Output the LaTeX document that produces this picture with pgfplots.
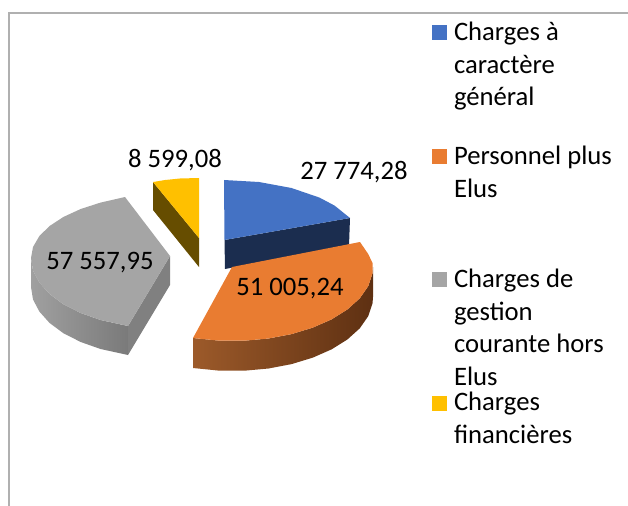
\documentclass[border=0pt]{standalone}
\usepackage{pgfplots}
\pgfplotsset{compat=1.18}
\usepackage{fontspec}
\setmainfont{Carlito}
\definecolor{cblue}{HTML}{4472C4}
\definecolor{cbluedk}{HTML}{1B2D4F}
\definecolor{corange}{HTML}{E97C31}
\definecolor{corl}{HTML}{9C5A2A}
\definecolor{cord}{HTML}{5E3012}
\definecolor{cgray}{HTML}{A5A5A5}
\definecolor{cgrayl}{HTML}{A0A0A0}
\definecolor{cgrayd}{HTML}{7A7A7A}
\definecolor{cgrayc}{HTML}{808080}
\definecolor{cyel}{HTML}{FFC000}
\definecolor{cyeld}{HTML}{664D00}
\definecolor{frame}{HTML}{B0B0B0}
\tikzset{lab/.style={font=\fontsize{20}{23}\selectfont,text=black,inner sep=0pt,outer sep=0pt}}
\begin{document}
\begin{tikzpicture}
\path[use as bounding box] (0,0) rectangle (471pt,379.5pt);
\begin{axis}[
  width=471pt,height=379.5pt,scale only axis,
  xmin=0,xmax=628,ymin=0,ymax=506,y dir=reverse,
  axis lines=none,clip=true,
]
% frame
\addplot[frame,line width=1.1pt] coordinates {(9,506)(9,13)(628,13)};
% yellow
\addplot[cyeld,fill=cyeld,draw=none] coordinates {(153,182)(199,238)(199,267)(153,210)} -- cycle;
\addplot[cyel,fill=cyel,draw=none] coordinates {(153,182)(165,180)(180,178.5)(199,178)(199,238)} -- cycle;
% gray
\addplot[draw=none,left color=cgrayl,right color=cgrayd] coordinates {(31,258)(33,270.5)(39.4,282.6)(49.6,294)(63.5,304.3)(80.7,313)(100.5,320)(128,326)(128,355)(100.5,349)(80.7,342)(63.5,333.3)(49.6,323)(39.4,311.6)(33,299.5)(31,287)} -- cycle;
\addplot[cgrayc,fill=cgrayc,draw=none] coordinates {(128,326)(170,256)(170,285)(128,355)} -- cycle;
\addplot[cgray,fill=cgray,draw=none] coordinates {(125,197)(100.5,202.6)(80.7,209)(63.5,216.9)(49.6,226)(39.4,236)(33,247)(31,258)(33,270.5)(39.4,282.6)(49.6,294)(63.5,304.3)(80.7,313)(100.5,320)(128,326)(170,256)} -- cycle;
% blue
\addplot[cbluedk,fill=cbluedk,draw=none] coordinates {(224.5,240)(350,218)(349,246)(225,269)} -- cycle;
\addplot[cblue,fill=cblue,draw=none] coordinates {(224,180)(259,182)(291.5,188)(319.5,197.6)(334.6,205.6)(350,218)(224.5,240)} -- cycle;
% orange
\addplot[draw=none,left color=corl,middle color=cord,right color=cord] coordinates {(373,267)(372.5,273.4)(368.2,286.2)(359.8,298.3)(347.5,309.4)(331.7,319.3)(312.9,327.6)(291.6,334.1)(268.5,338.5)(244.3,340.7)(219.7,340.7)(193,338)(193,368)(219.7,370.7)(244.3,370.7)(268.5,368.5)(291.6,364.1)(312.9,357.6)(331.7,349.3)(347.5,339.4)(359.8,328.3)(368.2,316.2)(372.5,303.4)(373,297)} -- cycle;
\addplot[corange,fill=corange,draw=none] coordinates {(232,267)(360,242)(368.2,254)(372.5,263)(372.5,273.4)(368.2,286.2)(359.8,298.3)(347.5,309.4)(331.7,319.3)(312.9,327.6)(291.6,334.1)(268.5,338.5)(244.3,340.7)(219.7,340.7)(193,338)} -- cycle;
% legend keys
\addplot[cblue,fill=cblue,draw=none] coordinates {(432,25)(447,25)(447,40)(432,40)} -- cycle;
\addplot[corange,fill=corange,draw=none] coordinates {(432,149)(447,149)(447,164)(432,164)} -- cycle;
\addplot[cgray,fill=cgray,draw=none] coordinates {(432,272)(447,272)(447,287)(432,287)} -- cycle;
\addplot[cyel,fill=cyel,draw=none] coordinates {(432,396)(447,396)(447,411)(432,411)} -- cycle;
% data labels
\node[lab,anchor=base] at (axis cs:175,167) {8 599,08};
\node[lab,anchor=base] at (axis cs:354,180) {27 774,28};
\node[lab,anchor=base] at (axis cs:100,269) {57 557,95};
\node[lab,anchor=base] at (axis cs:290,295) {51 005,24};
% legend text
\node[lab,anchor=base west] at (axis cs:454,41) {Charges à};
\node[lab,anchor=base west] at (axis cs:454,74) {caractère};
\node[lab,anchor=base west] at (axis cs:454,106) {général};
\node[lab,anchor=base west] at (axis cs:454,165) {Personnel plus};
\node[lab,anchor=base west] at (axis cs:454,197) {Elus};
\node[lab,anchor=base west] at (axis cs:454,287) {Charges de};
\node[lab,anchor=base west] at (axis cs:454,320) {gestion};
\node[lab,anchor=base west] at (axis cs:454,352) {courante hors};
\node[lab,anchor=base west] at (axis cs:454,385) {Elus};
\node[lab,anchor=base west] at (axis cs:454,410) {Charges};
\node[lab,anchor=base west] at (axis cs:454,443) {financières};
\end{axis}
\end{tikzpicture}
\end{document}
